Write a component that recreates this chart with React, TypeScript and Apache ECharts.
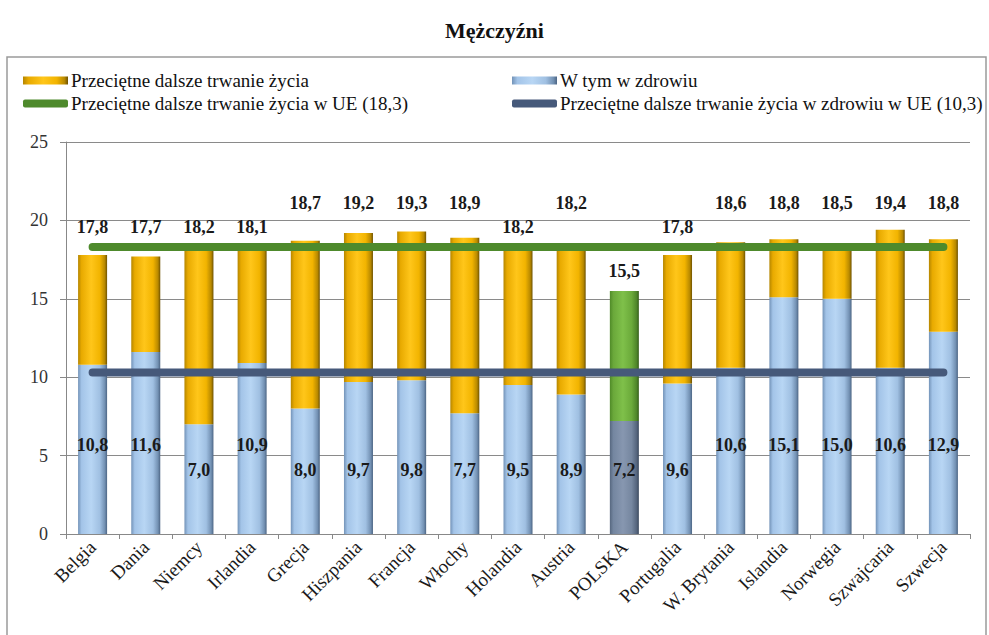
import React, { useEffect, useRef } from "react";
import * as echarts from "echarts";

const TITLE = "Mężczyźni";
const countries = [
  "Belgia", "Dania", "Niemcy", "Irlandia", "Grecja", "Hiszpania", "Francja", "Włochy",
  "Holandia", "Austria", "POLSKA", "Portugalia", "W. Brytania", "Islandia", "Norwegia",
  "Szwajcaria", "Szwecja",
];
const totalLife = [17.8, 17.7, 18.2, 18.1, 18.7, 19.2, 19.3, 18.9, 18.2, 18.2, 15.5, 17.8, 18.6, 18.8, 18.5, 19.4, 18.8];
const healthyLife = [10.8, 11.6, 7.0, 10.9, 8.0, 9.7, 9.8, 7.7, 9.5, 8.9, 7.2, 9.6, 10.6, 15.1, 15.0, 10.6, 12.9];
const euTotal = 18.3;
const euHealthy = 10.3;
const highlight = "POLSKA";

const NAME_TOTAL = "Przeciętne dalsze trwanie życia";
const NAME_HEALTHY = "W tym w zdrowiu";
const NAME_EU_TOTAL = "Przeciętne dalsze trwanie życia w UE (18,3)";
const NAME_EU_HEALTHY = "Przeciętne dalsze trwanie życia w zdrowiu w UE (10,3)";

// layout: label rows for total labels (value-unit heights)
const totalLabelRow = ["lo", "lo", "lo", "lo", "hi", "hi", "hi", "hi", "lo", "hi", "pl", "lo", "hi", "hi", "hi", "hi", "hi"];
const rowLevel: Record<string, number> = { hi: 21.1, lo: 19.55, pl: 16.75 };

const W = 989, H = 635;
const GRID = { left: 66, right: 19, top: 142, bottom: 101 };
const YMAX = 25;
const PX = (H - GRID.top - GRID.bottom) / YMAX;

const FONT = "Liberation Serif";
const fmt = (v: number) => v.toFixed(1).replace(".", ",");

const grad = (stops: [number, string][]) =>
  new echarts.graphic.LinearGradient(0, 0, 1, 0, stops.map(([offset, color]) => ({ offset, color })));

const yellow = () => grad([[0, "#B58600"], [0.12, "#E8AA00"], [0.45, "#FFC61A"], [0.75, "#F2B400"], [0.92, "#B88900"], [1, "#6E5200"]]);
const blue = () => grad([[0, "#7393B8"], [0.12, "#A3C4E8"], [0.45, "#B8D6F4"], [0.75, "#A0C0E2"], [0.92, "#7391B3"], [1, "#4C6584"]]);
const green = () => grad([[0, "#4F8A28"], [0.12, "#6AA83A"], [0.45, "#7FC04A"], [0.75, "#6BAA3A"], [0.92, "#4F8629"], [1, "#365E1B"]]);
const slate = () => grad([[0, "#56677F"], [0.12, "#7486A0"], [0.45, "#8797B0"], [0.75, "#7687A0"], [0.92, "#56667E"], [1, "#3C4A5E"]]);

export default function App() {
  const ref = useRef<HTMLDivElement>(null);
  useEffect(() => {
    if (!ref.current) return;
    const chart = echarts.init(ref.current, null, { renderer: "svg" });
    const remainder = totalLife.map((t, i) => +(t - healthyLife[i]).toFixed(1));
    const labelBase = { fontFamily: FONT, fontSize: 18, fontWeight: "bold" as const, color: "#1a1a1a" };
    const legendText = { fontFamily: FONT, fontSize: 19, color: "#111", padding: [0, 0, 0, -2] };

    chart.setOption({
      animation: false,
      backgroundColor: "#ffffff",
      textStyle: { fontFamily: FONT },
      title: {
        text: TITLE,
        left: "center",
        top: 14,
        textStyle: { fontFamily: FONT, fontSize: 22, fontWeight: "bold", color: "#111" },
      },
      graphic: [
        {
          type: "rect",
          shape: { x: 7, y: 57, width: 979, height: 600 },
          style: { fill: "none", stroke: "#9a9a9a", lineWidth: 1.5 },
          silent: true,
          z: -10,
        },
      ],
      legend: [
        {
          left: 18, top: 66, orient: "vertical", itemWidth: 45, itemHeight: 8, itemGap: 4,
          textStyle: legendText,
          data: [
            { name: NAME_TOTAL, icon: "rect" },
            { name: NAME_EU_TOTAL, icon: "roundRect" },
          ],
        },
        {
          left: 507, top: 66, orient: "vertical", itemWidth: 45, itemHeight: 8, itemGap: 4,
          textStyle: legendText,
          data: [
            { name: NAME_HEALTHY, icon: "rect" },
            { name: NAME_EU_HEALTHY, icon: "roundRect" },
          ],
        },
      ],
      grid: GRID,
      xAxis: {
        type: "category",
        data: countries,
        axisLine: { lineStyle: { color: "#888", width: 1 } },
        axisTick: { show: true, length: 5, lineStyle: { color: "#888" } },
        axisLabel: { rotate: 45, fontFamily: FONT, fontSize: 19, color: "#1a1a1a", margin: 10 },
      },
      yAxis: {
        type: "value",
        min: 0,
        max: YMAX,
        interval: 5,
        axisLine: { show: true, lineStyle: { color: "#888" } },
        axisTick: { show: true, length: 6, lineStyle: { color: "#888" } },
        axisLabel: { fontFamily: FONT, fontSize: 18, color: "#333", margin: 18 },
        splitLine: { lineStyle: { color: "#8a8a8a", width: 1 } },
      },
      series: [
        {
          name: NAME_HEALTHY,
          type: "bar",
          stack: "life",
          barWidth: 29,
          itemStyle: { color: blue() },
          data: healthyLife.map((v, i) => ({
            value: v,
            itemStyle: { color: countries[i] === highlight ? slate() : blue() },
            label: {
              show: true,
              position: "insideBottom",
              distance: v >= 10 ? 80 : 55,
              formatter: () => fmt(v),
              ...labelBase,
            },
          })),
        },
        {
          name: NAME_TOTAL,
          type: "bar",
          stack: "life",
          barWidth: 29,
          itemStyle: { color: yellow() },
          data: remainder.map((v, i) => ({
            value: v,
            itemStyle: { color: countries[i] === highlight ? green() : yellow() },
            label: {
              show: true,
              position: "top",
              distance: (rowLevel[totalLabelRow[i]] - totalLife[i]) * PX - 9,
              formatter: () => fmt(totalLife[i]),
              ...labelBase,
            },
          })),
        },
        {
          name: NAME_EU_TOTAL,
          type: "line",
          data: countries.map(() => euTotal),
          symbol: "none",
          lineStyle: { color: "#4E8A2C", width: 8, cap: "round" },
          itemStyle: { color: "#4E8A2C" },
          z: 5,
        },
        {
          name: NAME_EU_HEALTHY,
          type: "line",
          data: countries.map(() => euHealthy),
          symbol: "none",
          lineStyle: { color: "#46597A", width: 8, cap: "round" },
          itemStyle: { color: "#46597A" },
          z: 5,
        },
      ],
    });
    return () => chart.dispose();
  }, []);
  return <div ref={ref} style={{ position: "fixed", left: 0, top: 0, width: W, height: H }} />;
}
